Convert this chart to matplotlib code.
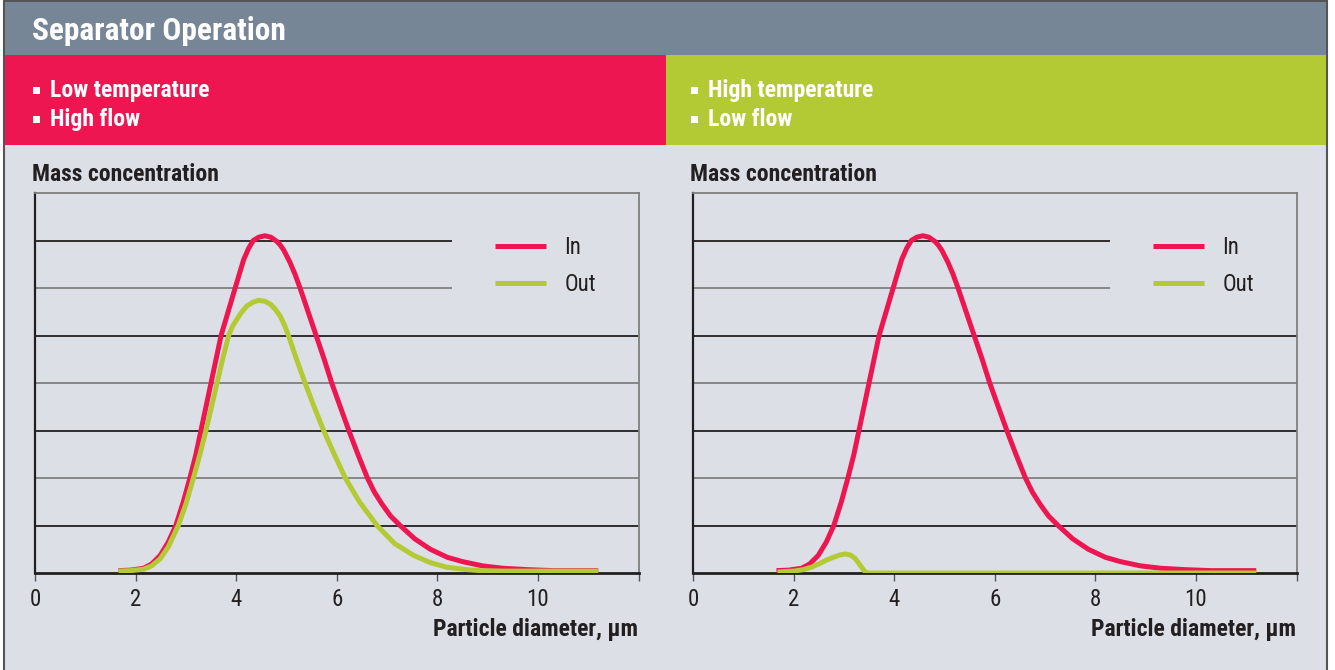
import matplotlib
matplotlib.use("Agg")
import matplotlib.pyplot as plt
from matplotlib.patches import Rectangle

# ---- data ----
x_ticks = [0, 2, 4, 6, 8, 10, 12]
x_tick_labels = ["0", "2", "4", "6", "8", "10", ""]

# "In" curve (same in both panels)
x_in = [1.66, 1.9, 2.16, 2.32, 2.49, 2.65, 2.8, 2.95, 3.08, 3.2, 3.3, 3.4, 3.5, 3.6,
        3.7, 3.84, 3.98, 4.07, 4.15, 4.25, 4.34, 4.45, 4.57, 4.69, 4.81, 4.88, 4.95,
        5.07, 5.17, 5.27, 5.43, 5.59, 5.75, 5.9, 6.07, 6.24, 6.42, 6.61, 6.75, 6.9,
        7.07, 7.26, 7.55, 7.86, 8.2, 8.5, 8.9, 9.3, 9.8, 10.3, 11.2]
y_in = [0.05, 0.06, 0.1, 0.19, 0.37, 0.65, 1.0, 1.5, 2.0, 2.5, 3.0, 3.5, 4.0, 4.5,
        5.0, 5.5, 6.0, 6.32, 6.6, 6.84, 7.0, 7.07, 7.1, 7.07, 6.98, 6.9, 6.79,
        6.54, 6.29, 6.0, 5.5, 5.0, 4.5, 4.0, 3.5, 3.0, 2.5, 2.0, 1.7, 1.45,
        1.2, 1.0, 0.72, 0.5, 0.33, 0.24, 0.15, 0.1, 0.07, 0.05, 0.05]

# "Out" curve, low temperature / high flow
x_out_low = [1.66, 1.9, 2.16, 2.32, 2.49, 2.65, 2.85, 3.0, 3.15, 3.28, 3.4, 3.51, 3.62,
             3.73, 3.85, 3.93, 4.02, 4.1, 4.21, 4.33, 4.45, 4.57, 4.68, 4.78, 4.88,
             4.96, 5.04, 5.2, 5.37, 5.55, 5.74, 5.95, 6.17, 6.45, 6.8, 7.15, 7.53,
             7.86, 8.19, 8.6, 8.86, 9.3, 11.2]
y_out_low = [0.04, 0.05, 0.08, 0.15, 0.3, 0.55, 1.0, 1.45, 2.0, 2.5, 3.0, 3.5, 4.0,
             4.5, 5.0, 5.2, 5.35, 5.48, 5.62, 5.7, 5.74, 5.72, 5.66, 5.55, 5.4,
             5.22, 5.0, 4.5, 4.0, 3.5, 3.0, 2.5, 2.0, 1.5, 1.0, 0.62, 0.37,
             0.22, 0.12, 0.07, 0.05, 0.04, 0.04]

# "Out" curve, high temperature / low flow
x_out_high = [1.68, 2.0, 2.19, 2.35, 2.52, 2.65, 2.79, 2.92, 3.03, 3.13, 3.22, 3.3,
              3.38, 3.45, 11.2]
y_out_high = [0.02, 0.04, 0.07, 0.12, 0.2, 0.27, 0.33, 0.38, 0.4, 0.38, 0.31, 0.2,
              0.08, 0.0, 0.0]

panels = [
    (["Low temperature", "High flow"], x_in, y_in, x_out_low, y_out_low),
    (["High temperature", "Low flow"], x_in, y_in, x_out_high, y_out_high),
]

# ---- style ----
RED = "#ed1651"
GREEN = "#b4ca35"
BAR = "#768696"
BG = "#dce0e6"
DARK = "#231f20"
GRAY = "#7f7f7f"

plt.rcParams["font.family"] = ["Roboto Condensed", "Liberation Sans", "DejaVu Sans"]

W, H = 1335, 670
fig = plt.figure(figsize=(W / 100, H / 100), dpi=100)
fig.patch.set_facecolor("white")

# background layer in pixel coords (y down)
bg = fig.add_axes([0, 0, 1, 1], zorder=0)
bg.set_xlim(0, W)
bg.set_ylim(H, 0)
bg.axis("off")

bg.add_patch(Rectangle((4, 1), 1323, 680, facecolor=BG, edgecolor="#555555", lw=1.5))
bg.add_patch(Rectangle((5, 2), 1321, 53, facecolor=BAR, edgecolor="none"))
bg.add_patch(Rectangle((5, 55), 661, 90, facecolor=RED, edgecolor="none"))
bg.add_patch(Rectangle((666, 55), 660, 90, facecolor=GREEN, edgecolor="none"))
bg.text(32, 40.5, "Separator Operation", color="white", fontsize=22.6,
        fontweight="bold", va="baseline", ha="left")

band_x = [33, 691]
for (lines, *_), bx in zip(panels, band_x):
    for k, s in enumerate(lines):
        base = 96.7 + k * 29
        bg.add_patch(Rectangle((bx, base - 9.5), 7, 7, facecolor="white", edgecolor="none"))
        bg.text(bx + 17, base, s, color="white", fontsize=17, fontweight="bold",
                va="baseline", ha="left")

# ---- chart panels ----
ax_left = [35, 693]
for (lines, xi, yi, xo, yo), x0 in zip(panels, ax_left):
    ax = fig.add_axes([x0 / W, (H - 573) / H, 603.5 / W, 380 / H], zorder=1)
    ax.set_facecolor("none")
    ax.set_xlim(0, 12)
    ax.set_ylim(0, 8)

    # grid lines: odd dark, even gray; top two stop short of the legend
    for g in range(1, 8):
        xmax = 8.3 if g >= 6 else 12
        ax.hlines(g, 0, xmax, color=DARK if g % 2 else GRAY, lw=1.3, zorder=1)

    ax.plot(xi, yi, color=RED, lw=3.6, solid_capstyle="butt", solid_joinstyle="round",
            label="In", zorder=3)
    ax.plot(xo, yo, color=GREEN, lw=3.6, solid_capstyle="butt", solid_joinstyle="round",
            label="Out", zorder=4)

    ax.spines["left"].set_color(DARK)
    ax.spines["left"].set_linewidth(1.6)
    ax.spines["bottom"].set_color(DARK)
    ax.spines["bottom"].set_linewidth(2.0)
    ax.spines["top"].set_color(GRAY)
    ax.spines["top"].set_linewidth(1.3)
    ax.spines["right"].set_color(GRAY)
    ax.spines["right"].set_linewidth(1.3)
    for sp in ax.spines.values():
        sp.set_zorder(2)

    ax.set_yticks([])
    ax.set_xticks(x_ticks)
    ax.set_xticklabels(x_tick_labels)
    ax.tick_params(axis="x", direction="out", length=6, width=1.0, color="#555555",
                   labelsize=16.5, labelcolor=DARK, pad=5)

    leg = ax.legend(loc="upper left", bbox_to_anchor=((495 - 35) / 603, (573 - 236.5) / 380),
                    frameon=False, handlelength=2.2, handletextpad=0.8,
                    labelspacing=0.6, borderpad=0, borderaxespad=0,
                    prop={"size": 16.5})
    for t in leg.get_texts():
        t.set_color(DARK)

    bg.text(x0 - 3, 180.7, "Mass concentration", color=DARK, fontsize=17,
            fontweight="bold", va="baseline", ha="left")
    bg.text(x0 + 603, 636, "Particle diameter, µm", color=DARK, fontsize=17,
            fontweight="bold", va="baseline", ha="right")

fig.savefig("out.png", dpi=100, facecolor=fig.get_facecolor())
